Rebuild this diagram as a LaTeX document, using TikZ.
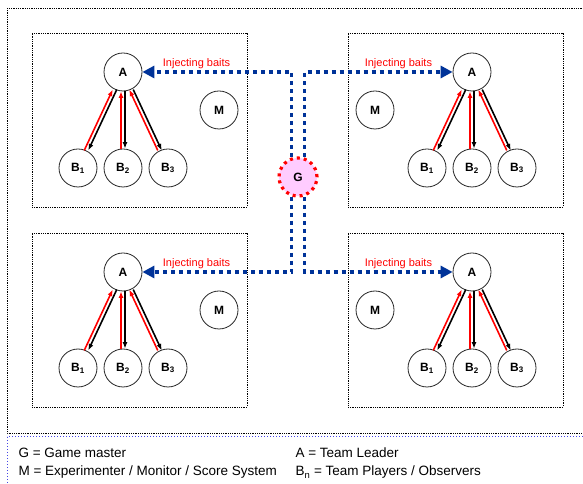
\documentclass[tikz,border=0pt]{standalone}
\usepackage{fontspec}
\setmainfont{Liberation Sans}
\usetikzlibrary{arrows.meta, positioning, calc}

\definecolor{baitblue}{RGB}{0,51,153}
\definecolor{gmpink}{RGB}{255,204,255}
\definecolor{legendblue}{RGB}{70,70,230}

\begin{document}
\begin{tikzpicture}[
    x=1pt, y=1pt,
    >=Stealth,
    player/.style={circle, draw=black!85, line width=0.8pt, minimum size=38pt, inner sep=0pt, fill=white, font=\bfseries\fontsize{12}{14}\selectfont},
    master/.style={circle, draw=red, fill=gmpink, line width=3.2pt, dash pattern=on 3pt off 4pt, minimum size=38pt, inner sep=0pt, font=\bfseries\fontsize{12}{14}\selectfont},
    teambox/.style={draw, densely dotted, line width=0.8pt, minimum width=215pt, minimum height=174pt},
    bait/.style={draw=baitblue, line width=3.5pt, dash pattern=on 4pt off 4pt, -{Triangle[length=12pt,width=12pt]}},
    baitlabel/.style={text=red, font=\fontsize{11}{12}\selectfont},
    redarr/.style={draw=red, line width=1.6pt, -{Latex[length=6.5pt,width=5pt]}, transform canvas={xshift=-2pt}},
    blackarr/.style={draw=black, line width=1.6pt, -{Latex[length=6.5pt,width=5pt]}, transform canvas={xshift=2pt}},
    legend/.style={anchor=base west, font=\fontsize{13.5}{15}\selectfont}
]
\useasboundingbox (0,0) rectangle (583,484);

% outer frame and legend frame
\draw[densely dotted, line width=0.8pt] (7,476) rectangle (595,51);
\draw[legendblue, dotted, line width=1pt] (7,47) rectangle (595,-10);

% ================= TOP-LEFT TEAM =================
\node[teambox] (boxTL) at (139.5,364) {};
\node[player] (aTL) at (123,412) {A};
\node[player] (mTL) at (219,374) {M};
\node[player] (b1TL) at ($(aTL)+(-45,-96)$) {B\textsubscript{1}};
\node[player] (b2TL) at ($(aTL)+(0,-96)$) {B\textsubscript{2}};
\node[player] (b3TL) at ($(aTL)+(45,-96)$) {B\textsubscript{3}};

\draw[redarr] (b1TL) -- (aTL);  \draw[blackarr] (aTL) -- (b1TL);
\draw[redarr] (b2TL) -- (aTL);  \draw[blackarr] (aTL) -- (b2TL);
\draw[redarr] (b3TL) -- (aTL);  \draw[blackarr] (aTL) -- (b3TL);

% ================= TOP-RIGHT TEAM =================
\node[teambox] (boxTR) at (455.5,364) {};
\node[player] (aTR) at (472,412) {A};
\node[player] (mTR) at (375,374) {M};
\node[player] (b1TR) at ($(aTR)+(-45,-96)$) {B\textsubscript{1}};
\node[player] (b2TR) at ($(aTR)+(0,-96)$) {B\textsubscript{2}};
\node[player] (b3TR) at ($(aTR)+(45,-96)$) {B\textsubscript{3}};

\draw[redarr] (b1TR) -- (aTR);  \draw[blackarr] (aTR) -- (b1TR);
\draw[redarr] (b2TR) -- (aTR);  \draw[blackarr] (aTR) -- (b2TR);
\draw[redarr] (b3TR) -- (aTR);  \draw[blackarr] (aTR) -- (b3TR);

% ================= BOTTOM-LEFT TEAM =================
\node[teambox] (boxBL) at (139.5,164) {};
\node[player] (aBL) at (123,212) {A};
\node[player] (mBL) at (219,174) {M};
\node[player] (b1BL) at ($(aBL)+(-45,-96)$) {B\textsubscript{1}};
\node[player] (b2BL) at ($(aBL)+(0,-96)$) {B\textsubscript{2}};
\node[player] (b3BL) at ($(aBL)+(45,-96)$) {B\textsubscript{3}};

\draw[redarr] (b1BL) -- (aBL);  \draw[blackarr] (aBL) -- (b1BL);
\draw[redarr] (b2BL) -- (aBL);  \draw[blackarr] (aBL) -- (b2BL);
\draw[redarr] (b3BL) -- (aBL);  \draw[blackarr] (aBL) -- (b3BL);

% ================= BOTTOM-RIGHT TEAM =================
\node[teambox] (boxBR) at (455.5,164) {};
\node[player] (aBR) at (472,212) {A};
\node[player] (mBR) at (375,174) {M};
\node[player] (b1BR) at ($(aBR)+(-45,-96)$) {B\textsubscript{1}};
\node[player] (b2BR) at ($(aBR)+(0,-96)$) {B\textsubscript{2}};
\node[player] (b3BR) at ($(aBR)+(45,-96)$) {B\textsubscript{3}};

\draw[redarr] (b1BR) -- (aBR);  \draw[blackarr] (aBR) -- (b1BR);
\draw[redarr] (b2BR) -- (aBR);  \draw[blackarr] (aBR) -- (b2BR);
\draw[redarr] (b3BR) -- (aBR);  \draw[blackarr] (aBR) -- (b3BR);

% ================= GAME MASTER & BAITS =================
\node[master] (G) at (298,307) {G};

\draw[bait] ($(G.center)+(-6.5,20)$) |- (aTL.east);
\draw[bait] ($(G.center)+(6.5,20)$) |- (aTR.west);
\draw[bait] ($(G.center)+(-6.5,-20)$) |- (aBL.east);
\draw[bait] ($(G.center)+(6.5,-20)$) |- (aBR.west);

\node[baitlabel, anchor=base west] (baitTL) at ($(aTL.east)+(17,5)$) {Injecting baits};
\node[baitlabel, anchor=base east] (baitTR) at ($(aTR.west)+(-17,5)$) {Injecting baits};
\node[baitlabel, anchor=base west] (baitBL) at ($(aBL.east)+(17,5)$) {Injecting baits};
\node[baitlabel, anchor=base east] (baitBR) at ($(aBR.west)+(-17,5)$) {Injecting baits};

% ================= LEGEND =================
\node[legend] (legG) at (15,26) {G = Game master};
\node[legend] (legM) at (15,8) {M = Experimenter / Monitor / Score System};
\node[legend] (legA) at (292,26) {A = Team Leader};
\node[legend] (legB) at (292,8) {B\textsubscript{n} = Team Players / Observers};

\end{tikzpicture}
\end{document}
